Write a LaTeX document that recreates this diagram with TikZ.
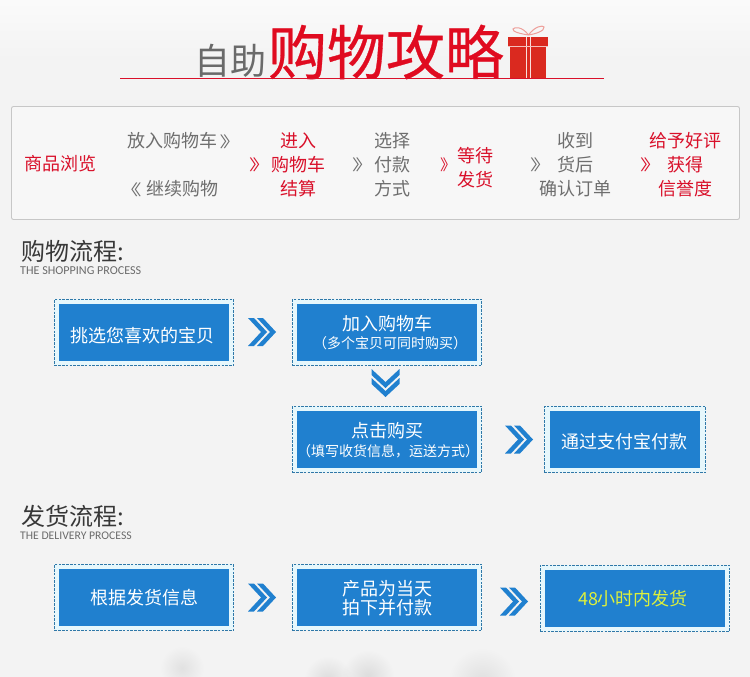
\documentclass[tikz,border=0pt]{standalone}
\usepackage{fontspec}
\setmainfont{Noto Sans CJK SC}
\newfontfamily\titlefont[FakeBold=0.5]{Noto Sans CJK SC}
\newfontfamily\latinfont{Carlito}
\usetikzlibrary{shadings,fadings}
\tikzfading[name=softfade,inner color=transparent!0,outer color=transparent!100]
\definecolor{bgc}{HTML}{F3F3F3}
\definecolor{redc}{HTML}{D9102A}
\definecolor{titlered}{HTML}{E00B20}
\definecolor{greyc}{HTML}{6E6E6E}
\definecolor{titlegrey}{HTML}{6A6A6A}
\definecolor{bluec}{HTML}{2080CF}
\definecolor{dashc}{HTML}{2F78A8}
\definecolor{paleb}{HTML}{E6F7FC}
\definecolor{giftc}{HTML}{DA291F}
\definecolor{yellowc}{HTML}{DDF03C}
\newcommand{\sepglyphR}{\makebox[10pt][l]{\scalebox{1.45}[1]{\fontsize{15}{15}\selectfont 》}}}
\newcommand{\sepglyphN}{\makebox[10pt][l]{\scalebox{1.1}[1]{\fontsize{15}{15}\selectfont 》}}}
\newcommand{\sepglyphL}{\makebox[10pt][r]{\scalebox{1.45}[1]{\fontsize{15}{15}\selectfont 《}}}
\tikzset{
  x=1pt,y=-1pt,
  txt/.style={inner sep=0pt,outer sep=0pt,font=\fontsize{18}{18}\selectfont,anchor=center},
  stepred/.style={txt,text=redc},
  stepgrey/.style={txt,text=greyc},
  boxmain/.style={txt,text=white},
  boxsub/.style={txt,text=white,font=\fontsize{14}{14}\selectfont},
  heading/.style={inner sep=0pt,anchor=west,text=black!78,font=\fontsize{24}{24}\selectfont},
  subhead/.style={inner sep=0pt,anchor=west,text=black!58},
  outerbox/.style={draw=dashc,fill=paleb,line width=0.8pt,dash pattern=on 2.6pt off 1.2pt,inner sep=0pt},
  innerbox/.style={fill=bluec,inner sep=0pt},
  softspot/.style={fill=black,opacity=#1,path fading=softfade},
  dblchev/.pic={
    \fill[bluec] (-14,-14)--(-8,-14)--(5,0)--(-8,14)--(-14,14)--(-1,0)--cycle;
    \fill[bluec] (-5,-14)--(1,-14)--(14,0)--(1,14)--(-5,14)--(8,0)--cycle;
  },
}
\newcommand{\flowbox}[9]{%
  \node[outerbox,minimum width=#4-#2,minimum height=#5-#3] (#1o) at ({(#2+#4)/2},{(#3+#5)/2}) {};
  \node[innerbox,minimum width=#8-#6,minimum height=#9-#7] (#1) at ({(#6+#8)/2},{(#7+#9)/2}) {};
}
\begin{document}
\begin{tikzpicture}
\useasboundingbox (0,0) rectangle (750,677);
\fill[bgc] (0,0) rectangle (750,677);
% soft background tones
\shade[top color=white!60!bgc,bottom color=bgc] (0,0) rectangle (750,60);
\begin{scope}
\clip (0,0) rectangle (750,677);
\fill[softspot=0.07] (182,668) circle (22);
\fill[softspot=0.09] (328,680) circle (24);
\fill[softspot=0.09] (368,676) circle (26);
\fill[softspot=0.08] (482,682) circle (34);
\end{scope}

% title
\node[txt,text=titlegrey,font=\fontsize{36}{36}\selectfont] (t1) at (230,60.5) {自助};
\node[txt,text=titlered,font=\titlefont\fontsize{59}{59}\selectfont] (t2) at (386,52) {购物攻略};
\fill[redc] (120,77.6) rectangle (604,78.8);
% gift
\fill[giftc] (508,37) rectangle (548,46);
\fill[giftc] (510,47.5) rectangle (546,78);
\fill[white!85!giftc] (526,37) rectangle (527.2,78);
\fill[white!85!giftc] (530.2,37) rectangle (531.4,78);
\fill[white!70!giftc] (508,46) rectangle (548,47.5);
\draw[white!55!giftc,line width=1pt] (528.5,35) .. controls (522,26) and (514,27) .. (513,29) .. controls (512,32) and (522,34) .. (528.5,35)
  .. controls (535,26) and (543,25) .. (544,27) .. controls (545,31) and (535,34) .. (528.5,35);

% process panel
\draw[draw=black!22,fill=white!35!bgc,line width=0.9pt,rounded corners=2pt] (11.5,106.5) rectangle (739.5,219.5);
\node[stepred] (n1) at (60,164) {商品浏览};
\node[stepgrey,anchor=west] (n2) at (127.5,141) {放入购物车\kern2pt\sepglyphR};
\node[stepgrey,anchor=east] (n3) at (218.5,189) {\sepglyphL\kern5pt继续购物};
\node[txt,text=redc] (c1) at (254,165) {\sepglyphR};
\node[stepred] (n4a) at (298,141) {进入};
\node[stepred] (n4b) at (298,165) {购物车};
\node[stepred] (n4c) at (298,189) {结算};
\node[txt,text=greyc] (c2) at (357,165) {\sepglyphR};
\node[stepgrey] (n5a) at (392,141) {选择};
\node[stepgrey] (n5b) at (392,165) {付款};
\node[stepgrey] (n5c) at (392,189) {方式};
\node[txt,text=redc] (c3) at (445,165) {\sepglyphN};
\node[stepred] (n6a) at (475,156) {等待};
\node[stepred] (n6b) at (475,180) {发货};
\node[txt,text=greyc] (c4) at (535,165) {\sepglyphR};
\node[stepgrey] (n7a) at (575,141) {收到};
\node[stepgrey] (n7b) at (575,165) {货后};
\node[stepgrey] (n7c) at (575,189) {确认订单};
\node[txt,text=redc] (c5) at (645,165) {\sepglyphR};
\node[stepred] (n8a) at (685,141) {给予好评};
\node[stepred] (n8b) at (685,165) {获得};
\node[stepred] (n8c) at (685,189) {信誉度};

% shopping process
\node[heading] (h1) at (21,251) {购物流程:};
\node[subhead,font=\latinfont\fontsize{12.1}{12.1}\selectfont] (s1) at (20,271) {THE SHOPPING PROCESS};
\flowbox{a}{54.3}{299.3}{233.7}{365.3}{59}{304}{229}{361}
\flowbox{b}{292.3}{299.3}{481.7}{365.3}{297}{304}{477}{361}
\flowbox{c}{292.3}{406.3}{481.7}{472.3}{297}{411}{477}{468}
\flowbox{d}{544.3}{406.3}{705.7}{472.3}{550}{411}{700}{468}
\node[boxmain] (la) at (142,336) {挑选您喜欢的宝贝};
\node[boxmain] (lb) at (387,324) {加入购物车};
\node[boxsub] (lb2) at (390,343) {（多个宝贝可同时购买）};
\node[boxmain] (lc) at (387,431) {点击购买};
\node[boxsub] (lc2) at (388,451) {（填写收货信息，运送方式）};
\node[boxmain] (ld) at (624.5,442) {通过支付宝付款};
\pic at (262,332) {dblchev};
\pic[rotate=-90] at (385.5,383) {dblchev};
\pic at (519,439.5) {dblchev};

% delivery process
\node[heading] (h2) at (21,516) {发货流程:};
\node[subhead,font=\latinfont\fontsize{11.7}{11.7}\selectfont] (s2) at (20,536) {THE DELIVERY PROCESS};
\flowbox{e}{54.3}{564.3}{233.7}{630.3}{59}{569}{229}{626}
\flowbox{f}{292.3}{564.3}{481.7}{630.3}{297}{569}{477}{626}
\flowbox{g}{540}{565.3}{729.7}{631.3}{545}{570}{725}{627}
\node[boxmain] (le) at (144.5,598) {根据发货信息};
\node[boxmain] (lf) at (387,588.5) {产品为当天};
\node[boxmain] (lf2) at (387,608) {拍下并付款};
\node[boxmain,text=yellowc] (lg) at (633,599) {48小时内发货};
\pic at (262,597.5) {dblchev};
\pic at (514,601.5) {dblchev};
\end{tikzpicture}
\end{document}
